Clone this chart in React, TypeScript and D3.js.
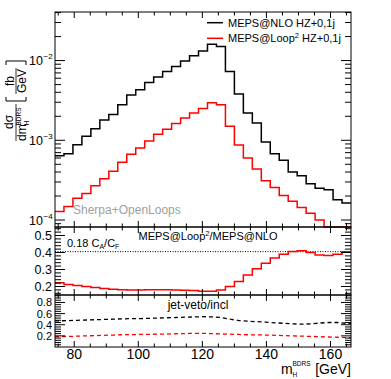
import React from 'react';
import * as d3 from 'd3';

// binning of m_H^BDRS [GeV]
const binLo = 74;
const binWidth = 2.8;

// dsigma/dm [fb/GeV], one value per bin
const mepsNlo = [
  6.4e-4, 6.8e-4, 8.8e-4, 1.12e-3, 1.4e-3, 1.8e-3, 2.1e-3, 2.8e-3, 3.7e-3, 4.3e-3,
  5.3e-3, 6.2e-3, 7.3e-3, 8.4e-3, 9.9e-3, 1.15e-2, 1.32e-2, 1.6e-2, 1.5e-2, 7.3e-3,
  3.8e-3, 2.2e-3, 1.65e-3, 9.5e-4, 6.8e-4, 5.6e-4, 4.0e-4, 3.6e-4, 2.85e-4, 2.5e-4,
  2.4e-4, 1.8e-4, 1.64e-4,
];
const mepsLoop2 = [
  1.28e-4, 1.48e-4, 1.87e-4, 2.15e-4, 2.7e-4, 3.3e-4, 4.1e-4, 5.3e-4, 6.7e-4, 8.0e-4,
  9.8e-4, 1.19e-3, 1.38e-3, 1.62e-3, 1.9e-3, 2.2e-3, 2.5e-3, 2.95e-3, 2.8e-3, 1.5e-3,
  8.7e-4, 6.0e-4, 4.35e-4, 3.1e-4, 2.55e-4, 2.03e-4, 1.72e-4, 1.44e-4, 1.22e-4, 1.0e-4,
  8.0e-5, 7.0e-5, 6.6e-5,
];

// MEPS@Loop2 / MEPS@NLO
const ratioLoop2Nlo = [
  0.222, 0.212, 0.206, 0.2, 0.194, 0.188, 0.184, 0.181, 0.18, 0.18,
  0.181, 0.181, 0.181, 0.18, 0.178, 0.176, 0.172, 0.172, 0.18, 0.2,
  0.23, 0.268, 0.304, 0.337, 0.367, 0.39, 0.406, 0.41, 0.4, 0.386,
  0.382, 0.39, 0.405,
];

// jet-veto / inclusive
const vetoNlo = [
  0.47, 0.475, 0.48, 0.485, 0.49, 0.495, 0.5, 0.505, 0.51, 0.51,
  0.515, 0.52, 0.525, 0.53, 0.535, 0.54, 0.545, 0.54, 0.53, 0.5,
  0.475, 0.465, 0.455, 0.445, 0.435, 0.425, 0.415, 0.41, 0.415, 0.43,
  0.44, 0.44, 0.425,
];
const vetoLoop2 = [
  0.185, 0.19, 0.195, 0.2, 0.205, 0.21, 0.215, 0.22, 0.222, 0.225,
  0.228, 0.23, 0.233, 0.238, 0.242, 0.245, 0.245, 0.24, 0.235, 0.23,
  0.225, 0.22, 0.218, 0.215, 0.21, 0.205, 0.2, 0.195, 0.19, 0.185,
  0.18, 0.175, 0.168,
];

const xTicks = [80, 100, 120, 140, 160];
const mainDecades = [-2, -3, -4];
const ratioTicks = [0.2, 0.3, 0.4, 0.5];
const vetoTicks = [0.2, 0.4, 0.6, 0.8];
const caCf = 0.405; // 0.18 C_A/C_F

const FONT = '"Liberation Sans", Arial, Helvetica, sans-serif';
const RED = '#ff0000';

const L = 55, R = 351;
const mainTop = 12, mainBot = 227, ratioBot = 295, vetoBot = 347;
const nBins = mepsNlo.length;

const x = d3.scaleLinear().domain([binLo, binLo + nBins * binWidth]).range([L, R]);
const yMain = d3.scaleLog().domain([Math.pow(10, -4.0875), Math.pow(10, -1.391)]).range([mainBot, mainTop]);
const yRatio = d3.scaleLinear().domain([0.15, 0.55]).range([ratioBot, mainBot]);
const yVeto = d3.scaleLinear().domain([0, 0.934]).range([vetoBot, ratioBot]);

function stepPath(vals: number[], y: any) {
  const [lo, hi] = y.domain();
  const c = (v: number) => y(Math.min(hi, Math.max(lo, v)));
  const pts: [number, number][] = vals.map((v, i) => [x(binLo + i * binWidth), c(v)]);
  pts.push([x(binLo + vals.length * binWidth), c(vals[vals.length - 1])]);
  return d3.line().curve(d3.curveStepAfter)(pts) as string;
}

function centerPath(vals: number[], y: any) {
  const pts: [number, number][] = vals.map((v, i) => [x(binLo + (i + 0.5) * binWidth), y(v)]);
  pts.unshift([x(binLo), y(vals[0])]);
  pts.push([x(binLo + vals.length * binWidth), y(vals[vals.length - 1])]);
  return d3.line()(pts) as string;
}

function Frame({ top, bot, yMajor, yMinor, y }: any) {
  const xMinor = d3.range(75, 166, 5).filter((v) => !xTicks.includes(v));
  const items: any[] = [];
  xTicks.forEach((v, i) => {
    const px = x(v);
    items.push(<line key={'xb' + i} x1={px} x2={px} y1={bot} y2={bot - 6} />);
    items.push(<line key={'xt' + i} x1={px} x2={px} y1={top} y2={top + 6} />);
  });
  xMinor.forEach((v, i) => {
    const px = x(v);
    items.push(<line key={'mb' + i} x1={px} x2={px} y1={bot} y2={bot - 3.5} />);
    items.push(<line key={'mt' + i} x1={px} x2={px} y1={top} y2={top + 3.5} />);
  });
  yMajor.forEach((v: number, i: number) => {
    const py = y(v);
    items.push(<line key={'yl' + i} x1={L} x2={L + 10} y1={py} y2={py} />);
    items.push(<line key={'yr' + i} x1={R} x2={R - 10} y1={py} y2={py} />);
  });
  yMinor.forEach((v: number, i: number) => {
    const py = y(v);
    items.push(<line key={'nl' + i} x1={L} x2={L + 6} y1={py} y2={py} />);
    items.push(<line key={'nr' + i} x1={R} x2={R - 6} y1={py} y2={py} />);
  });
  return (
    <g stroke="#000" strokeWidth={1}>
      {items}
      <rect x={L} y={top} width={R - L} height={bot - top} fill="none" />
    </g>
  );
}

export default function App() {
  const [yLo, yHi] = yMain.domain();
  const mainMinor: number[] = [];
  for (let d = -5; d <= -1; d++) {
    for (let m = 2; m <= 9; m++) {
      const v = m * Math.pow(10, d);
      if (v > yLo && v < yHi) mainMinor.push(v);
    }
  }
  const mainMajor = mainDecades.map((d) => Math.pow(10, d));
  const ratioMinor = d3.range(0.16, 0.55, 0.02).filter((v) => !ratioTicks.some((t) => Math.abs(t - v) < 1e-6));
  const vetoMinor = d3.range(0.04, 0.93, 0.04).filter((v) => !vetoTicks.some((t) => Math.abs(t - v) < 1e-6));

  return (
    <svg width={391} height={379} style={{ position: 'absolute', left: 0, top: 0, background: '#fff' }} fontFamily={FONT}>
      <defs>
        <clipPath id="cMain"><rect x={L} y={mainTop} width={R - L} height={mainBot - mainTop + 1} /></clipPath>
      </defs>

      {/* main panel */}
      <g clipPath="url(#cMain)" fill="none" strokeWidth={1.5}>
        <path d={stepPath(mepsNlo, yMain)} stroke="#000" />
        <path d={stepPath(mepsLoop2, yMain)} stroke={RED} />
      </g>
      <Frame top={mainTop} bot={mainBot} yMajor={mainMajor} yMinor={mainMinor} y={yMain} />
      {mainDecades.map((d) => (
        <text key={d} x={43} y={yMain(Math.pow(10, d)) + 4.5} fontSize={12.5} textAnchor="end">
          10
          <tspan x={43.5} dy={-6} fontSize={8} textAnchor="start">{String(d).replace('-', '\u2212')}</tspan>
        </text>
      ))}
      <text x={73} y={214} fontSize={12} fill="#a0a0a0">Sherpa+OpenLoops</text>

      {/* legend */}
      <line x1={207} x2={223} y1={22.7} y2={22.7} stroke="#000" strokeWidth={1.5} />
      <text x={228} y={26.7} fontSize={11}>MEPS@NLO HZ+0,1j</text>
      <line x1={207} x2={223} y1={38.3} y2={38.3} stroke={RED} strokeWidth={1.5} />
      <text x={228} y={42.3} fontSize={11}>
        MEPS@Loop<tspan dy={-4} fontSize={7.5}>2</tspan><tspan dy={4}> HZ+0,1j</tspan>
      </text>

      {/* y axis title */}
      <g transform="translate(16,101) rotate(-90)" fontSize={12}>
        <text x={-21} y={-3} textAnchor="middle">d{'\u03c3'}</text>
        <line x1={-40} x2={-3} y1={0} y2={0} stroke="#000" strokeWidth={0.8} />
        <text x={-40} y={10}>dm</text>
        <text x={-24.5} y={5} fontSize={6.5}>BDRS</text>
        <text x={-24.5} y={12.5} fontSize={6.5}>H</text>
        <path d="M4,-10 H0 V10 H4" fill="none" stroke="#000" strokeWidth={1} />
        <text x={20} y={-2.5} textAnchor="middle">fb</text>
        <line x1={7} x2={33} y1={0} y2={0} stroke="#000" strokeWidth={0.8} />
        <text x={20} y={9.5} textAnchor="middle">GeV</text>
        <path d="M36,-10 H40 V10 H36" fill="none" stroke="#000" strokeWidth={1} />
      </g>

      {/* ratio panel */}
      <line x1={L} x2={R} y1={yRatio(caCf)} y2={yRatio(caCf)} stroke="#000" strokeWidth={1} strokeDasharray="1,1.5" />
      <path d={stepPath(ratioLoop2Nlo, yRatio)} fill="none" stroke={RED} strokeWidth={1.5} />
      <Frame top={mainBot} bot={ratioBot} yMajor={ratioTicks} yMinor={ratioMinor} y={yRatio} />
      {ratioTicks.map((v) => (
        <text key={v} x={52} y={yRatio(v) + 4.5} fontSize={12.5} textAnchor="end">{v.toFixed(1)}</text>
      ))}
      <text x={208} y={240} fontSize={11} textAnchor="middle">
        MEPS@Loop<tspan dy={-4} fontSize={7.5}>2</tspan><tspan dy={4}>/MEPS@NLO</tspan>
      </text>
      <text x={67} y={246.5} fontSize={11}>
        0.18 C<tspan dy={2.5} fontSize={7}>A</tspan><tspan dy={-2.5}>/C</tspan><tspan dy={2.5} fontSize={7}>F</tspan>
      </text>

      {/* jet-veto panel */}
      <path d={centerPath(vetoNlo, yVeto)} fill="none" stroke="#000" strokeWidth={1.3} strokeDasharray="4,3" />
      <path d={centerPath(vetoLoop2, yVeto)} fill="none" stroke={RED} strokeWidth={1.3} strokeDasharray="4,3" />
      <Frame top={ratioBot} bot={vetoBot} yMajor={vetoTicks} yMinor={vetoMinor} y={yVeto} />
      {vetoTicks.map((v) => (
        <text key={v} x={52} y={yVeto(v) + 4} fontSize={11} textAnchor="end">{v.toFixed(1)}</text>
      ))}
      <text x={198} y={309} fontSize={12} textAnchor="middle">jet-veto/incl</text>

      {/* x axis */}
      {xTicks.map((v) => (
        <text key={v} x={x(v)} y={359} fontSize={14} textAnchor="middle">{v}</text>
      ))}
      <text x={281} y={373.5} fontSize={14}>m</text>
      <text x={292.5} y={366} fontSize={6.5}>BDRS</text>
      <text x={292.5} y={377} fontSize={6.5}>H</text>
      <text x={351} y={373.5} fontSize={14} textAnchor="end">[GeV]</text>
    </svg>
  );
}
